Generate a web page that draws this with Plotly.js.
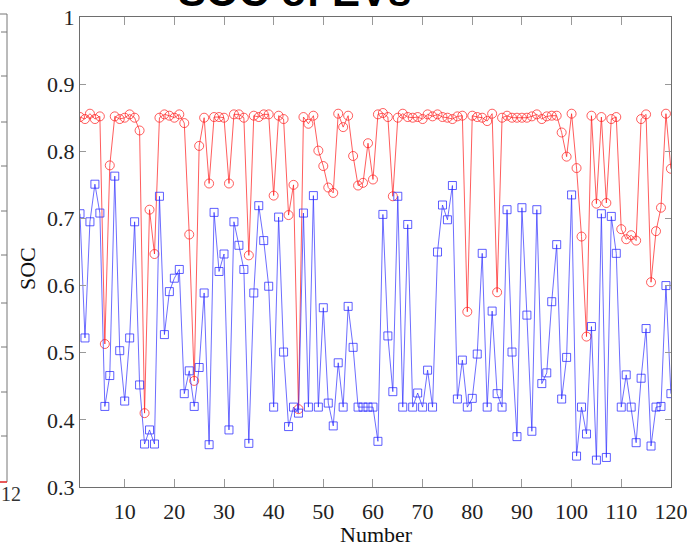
<!DOCTYPE html>
<html>
<head>
<meta charset="utf-8">
<script src="https://cdn.plot.ly/plotly-3.0.1.min.js"></script>
<style>html,body{margin:0;padding:0;background:#fff;}#chart{width:687px;height:547px;}</style>
</head>
<body>
<div id="chart"></div>
<script>
// ---- data ----
const numbers = Array.from({length: 120}, (_, i) => i + 1);

const socRed = [
  0.851, 0.848, 0.856, 0.848, 0.852, 0.513, 0.779, 0.852, 0.848, 0.850,
  0.855, 0.850, 0.831, 0.410, 0.713, 0.647, 0.850, 0.855, 0.853, 0.850,
  0.855, 0.842, 0.676, 0.458, 0.808, 0.850, 0.752, 0.851, 0.851, 0.850,
  0.752, 0.855, 0.855, 0.850, 0.645, 0.853, 0.851, 0.855, 0.855, 0.734,
  0.853, 0.848, 0.705, 0.750, 0.416, 0.851, 0.841, 0.853, 0.801, 0.778,
  0.746, 0.738, 0.856, 0.836, 0.853, 0.793, 0.749, 0.753, 0.812, 0.758,
  0.855, 0.857, 0.851, 0.733, 0.850, 0.856, 0.851, 0.850, 0.851, 0.848,
  0.855, 0.852, 0.855, 0.851, 0.850, 0.848, 0.852, 0.853, 0.561, 0.853,
  0.851, 0.850, 0.845, 0.856, 0.590, 0.850, 0.853, 0.850, 0.850, 0.850,
  0.850, 0.852, 0.855, 0.848, 0.852, 0.853, 0.853, 0.828, 0.792, 0.856,
  0.775, 0.673, 0.524, 0.853, 0.722, 0.851, 0.723, 0.848, 0.851, 0.684,
  0.669, 0.675, 0.667, 0.848, 0.855, 0.605, 0.681, 0.716, 0.856, 0.774
];

const socBlue = [
  0.707, 0.522, 0.695, 0.751, 0.708, 0.420, 0.466, 0.763, 0.503, 0.428,
  0.522, 0.695, 0.452, 0.364, 0.385, 0.364, 0.733, 0.527, 0.591, 0.611,
  0.624, 0.439, 0.473, 0.420, 0.478, 0.589, 0.363, 0.709, 0.621, 0.647,
  0.385, 0.695, 0.660, 0.624, 0.365, 0.589, 0.719, 0.667, 0.599, 0.419,
  0.702, 0.501, 0.390, 0.419, 0.410, 0.708, 0.419, 0.734, 0.419, 0.567,
  0.425, 0.391, 0.485, 0.419, 0.569, 0.508, 0.419, 0.419, 0.419, 0.419,
  0.368, 0.706, 0.525, 0.442, 0.733, 0.419, 0.691, 0.419, 0.440, 0.419,
  0.474, 0.419, 0.650, 0.720, 0.698, 0.749, 0.431, 0.489, 0.419, 0.432,
  0.498, 0.648, 0.419, 0.562, 0.439, 0.419, 0.713, 0.501, 0.375, 0.716,
  0.556, 0.383, 0.713, 0.454, 0.470, 0.576, 0.661, 0.431, 0.493, 0.735,
  0.346, 0.419, 0.379, 0.539, 0.340, 0.707, 0.344, 0.703, 0.648, 0.419,
  0.467, 0.419, 0.366, 0.462, 0.536, 0.361, 0.419, 0.420, 0.600, 0.439
];

const xTicks = [10, 20, 30, 40, 50, 60, 70, 80, 90, 100, 110, 120];
const yTicks = [0.3, 0.4, 0.5, 0.6, 0.7, 0.8, 0.9, 1];
const yTickText = ['0.3', '0.4', '0.5', '0.6', '0.7', '0.8', '0.9', '1'];

// ---- layout helpers (pixel -> paper) ----
const M = {l: 80, r: 16, t: 17, b: 60};
const W = 687, H = 547;
const PW = W - M.l - M.r, PH = H - M.t - M.b;
const px = v => (v - M.l) / PW;
const py = v => (H - M.b - v) / PH;

const serif = 'Liberation Serif, Times New Roman, serif';
const axisGray = '#6e6e6e';

const traces = [
  {
    x: numbers, y: socRed, type: 'scatter', mode: 'lines+markers',
    line: {color: 'rgba(255,30,30,0.72)', width: 1},
    marker: {symbol: 'circle-open', size: 9, color: 'rgba(255,30,30,0.72)', line: {width: 1}},
    showlegend: false, hoverinfo: 'x+y'
  },
  {
    x: numbers, y: socBlue, type: 'scatter', mode: 'lines+markers',
    line: {color: 'rgba(40,40,255,0.68)', width: 1},
    marker: {symbol: 'square-open', size: 8, color: 'rgba(40,40,255,0.75)', line: {width: 1}},
    showlegend: false, hoverinfo: 'x+y'
  }
];

// fragment of neighbouring panel at the far left
const fragTicks = [32, 76, 122, 166, 211, 255, 303, 347, 392, 436];
const shapes = [
  {type: 'line', xref: 'paper', yref: 'paper', x0: px(7), x1: px(7), y0: py(14), y1: py(482), line: {color: '#777', width: 1}},
  {type: 'line', xref: 'paper', yref: 'paper', x0: px(0), x1: px(7), y0: py(14), y1: py(14), line: {color: '#777', width: 1}},
  {type: 'line', xref: 'paper', yref: 'paper', x0: px(0), x1: px(7), y0: py(482), y1: py(482), line: {color: '#e02020', width: 1.5}}
];
fragTicks.forEach(t => shapes.push({type: 'line', xref: 'paper', yref: 'paper', x0: px(1), x1: px(7), y0: py(t), y1: py(t), line: {color: '#777', width: 1}}));

const layout = {
  width: W, height: H,
  margin: M,
  paper_bgcolor: '#fff', plot_bgcolor: '#fff',
  font: {family: serif, size: 22, color: '#222'},
  xaxis: {
    range: [1, 120.02], tickvals: xTicks, ticktext: xTicks.map(String),
    ticks: 'inside', ticklen: 8, tickcolor: '#999', tickwidth: 1,
    showline: true, linecolor: axisGray, linewidth: 1, mirror: 'ticks',
    showgrid: false, zeroline: false, automargin: false,
    ticklabelstandoff: 5, ticklabeloverflow: 'allow',
    tickfont: {family: serif, size: 22, color: '#222'}
  },
  yaxis: {
    range: [0.3, 1], tickvals: yTicks, ticktext: yTickText,
    ticks: 'inside', ticklen: 6, tickcolor: '#999', tickwidth: 1,
    showline: true, linecolor: axisGray, linewidth: 1, mirror: 'ticks',
    showgrid: false, zeroline: false, automargin: false,
    ticklabeloverflow: 'allow',
    tickfont: {family: serif, size: 22, color: '#222'}
  },
  shapes: shapes,
  annotations: [
    {text: '<b>SOC of EVs</b>', xref: 'paper', yref: 'paper', x: px(294), y: py(17), xanchor: 'center', yanchor: 'bottom',
     showarrow: false, font: {family: 'Liberation Sans, Arial, sans-serif', size: 42, color: '#000'}},
    {text: 'SOC', xref: 'paper', yref: 'paper', x: px(27), y: py(269), xanchor: 'center', yanchor: 'middle',
     textangle: -90, showarrow: false, font: {family: serif, size: 22, color: '#111'}},
    {text: 'Number', xref: 'paper', yref: 'paper', x: px(376), y: py(534), xanchor: 'center', yanchor: 'middle',
     showarrow: false, font: {family: serif, size: 22, color: '#111'}},
    {text: '12', xref: 'paper', yref: 'paper', x: px(-1), y: py(494), xanchor: 'left', yanchor: 'middle',
     showarrow: false, font: {family: serif, size: 20, color: '#333'}}
  ]
};

Plotly.newPlot('chart', traces, layout, {displayModeBar: false, staticPlot: true});
</script>
</body>
</html>
